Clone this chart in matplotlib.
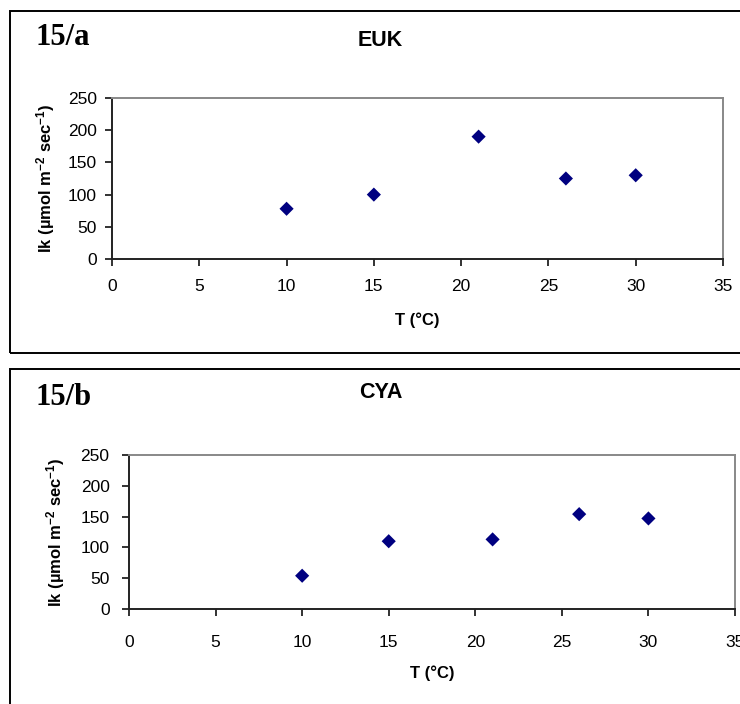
import matplotlib
matplotlib.use("Agg")
import matplotlib.pyplot as plt
from matplotlib.patches import Rectangle

# Data: light saturation parameter Ik versus temperature
temp_euk = [10, 15, 21, 26, 30]
ik_euk = [78, 100, 190, 125, 130]
temp_cya = [10, 15, 21, 26, 30]
ik_cya = [54, 110, 113, 154, 147]

x_ticks = [0, 5, 10, 15, 20, 25, 30, 35]
y_ticks = [0, 50, 100, 150, 200, 250]

plt.rcParams["font.family"] = ["Liberation Sans", "DejaVu Sans"]
plt.rcParams["mathtext.fontset"] = "custom"
plt.rcParams["mathtext.bf"] = "Liberation Sans:bold"
plt.rcParams["mathtext.rm"] = "Liberation Sans:bold"
plt.rcParams["mathtext.default"] = "bf"

W, H = 740, 704
fig = plt.figure(figsize=(W / 100, H / 100), dpi=100)


def fx(px):
    return px / W


def fy(py):
    return 1 - py / H


# panel frames
for (x0, y0, x1, y1) in [(10, 11, 760, 352.5), (10, 369, 760, 720)]:
    fig.patches.append(Rectangle((fx(x0), fy(y1)), fx(x1 - x0), (y1 - y0) / H,
                                 transform=fig.transFigure, fill=False,
                                 edgecolor="black", linewidth=1.4, zorder=0))

panels = [
    dict(box=(112, 98, 723, 259), x=temp_euk, y=ik_euk, tag="15/a", title="EUK",
         tag_xy=(36, 45), title_xy=(380, 40), ylab_x=46, xlab_y=320,
         xpad=9.5, ypad=6),
    dict(box=(129, 455, 735, 609), x=temp_cya, y=ik_cya, tag="15/b", title="CYA",
         tag_xy=(36, 405), title_xy=(381, 393), ylab_x=56, xlab_y=673,
         xpad=13.5, ypad=9),
]

ylabel = r"Ik (µmol m$^{-2}$ sec$^{-1}$)"

for p in panels:
    l, t, r, b = p["box"]
    ax = fig.add_axes([fx(l), fy(b), fx(r - l), (b - t) / H])
    ax.scatter(p["x"], p["y"], marker="D", s=52, color="#000080",
               edgecolors="none", zorder=3, clip_on=False)
    ax.set_xlim(0, 35)
    ax.set_ylim(0, 250)
    ax.set_xticks(x_ticks)
    ax.set_yticks(y_ticks)
    ax.tick_params(axis="both", direction="out", length=5, width=1.3,
                   color="#222222", labelsize=12.5, labelcolor="black")
    ax.tick_params(axis="x", pad=p["xpad"])
    ax.tick_params(axis="y", pad=p["ypad"])
    for side in ("left", "bottom"):
        ax.spines[side].set_color("#222222")
        ax.spines[side].set_linewidth(1.4)
    for side in ("top", "right"):
        ax.spines[side].set_color("#888888")
        ax.spines[side].set_linewidth(1.4)

    cy = (t + b) / 2
    fig.text(fx(p["ylab_x"]), fy(cy), ylabel, rotation=90, fontsize=12,
             fontweight="bold", ha="center", va="center")
    fig.text(fx((l + r) / 2), fy(p["xlab_y"]), "T (°C)", fontsize=12,
             fontweight="bold", ha="center", va="center")
    fig.text(fx(p["title_xy"][0]), fy(p["title_xy"][1]), p["title"],
             fontsize=15.5, fontweight="bold", ha="center", va="center")
    fig.text(fx(p["tag_xy"][0]), fy(p["tag_xy"][1]), p["tag"],
             fontsize=22, fontweight="bold", family="Liberation Serif",
             ha="left", va="baseline")

fig.savefig("out.png", dpi=100)
